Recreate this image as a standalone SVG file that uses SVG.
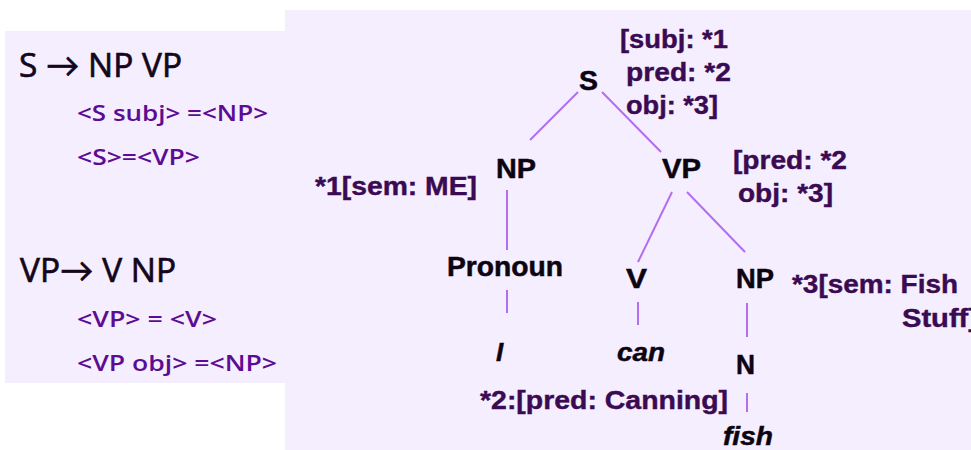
<svg xmlns="http://www.w3.org/2000/svg" width="971" height="450" viewBox="0 0 971 450">
<style>
.bg{fill:#f5eefe}
.head{font-family:"Open Sans",Lato,sans-serif;font-size:33px;fill:#14061c;stroke:#14061c;stroke-width:0.7}
.rule{font-family:"Open Sans",Lato,sans-serif;font-weight:600;font-size:21px;fill:#5c0c92}
.lab{font-family:"Liberation Sans",Arial,sans-serif;font-weight:bold;font-size:27px;fill:#0c0410;stroke:#0c0410;stroke-width:0.5}
.word{font-family:"Liberation Sans",Arial,sans-serif;font-weight:bold;font-style:italic;font-size:26px;fill:#0c0410;stroke:#0c0410;stroke-width:0.5}
.ann{font-family:"Liberation Sans",Arial,sans-serif;font-weight:bold;font-size:25px;fill:#3a0a52;stroke:#3a0a52;stroke-width:0.4}
.edge{stroke:#b36ef0;stroke-width:2;fill:none}
</style>
<rect width="971" height="450" fill="#ffffff"/>
<rect class="bg" x="5" y="31" width="280" height="352"/>
<rect class="bg" x="285" y="10" width="686" height="440"/>
<g id="rules">
<text class="head" x="19" y="77" textLength="163" lengthAdjust="spacingAndGlyphs">S → NP VP</text>
<text class="rule" x="77" y="121" textLength="191" lengthAdjust="spacingAndGlyphs">&lt;S subj&gt; =&lt;NP&gt;</text>
<text class="rule" x="77" y="165" textLength="123" lengthAdjust="spacingAndGlyphs">&lt;S&gt;=&lt;VP&gt;</text>
<text class="head" x="20" y="282" textLength="156" lengthAdjust="spacingAndGlyphs">VP→ V NP</text>
<text class="rule" x="77" y="327" textLength="140" lengthAdjust="spacingAndGlyphs">&lt;VP&gt; = &lt;V&gt;</text>
<text class="rule" x="77" y="371" textLength="200" lengthAdjust="spacingAndGlyphs">&lt;VP obj&gt; =&lt;NP&gt;</text>
</g>
<g id="connectors">
<line class="edge" x1="578" y1="92" x2="530" y2="140"/>
<line class="edge" x1="602" y1="92" x2="661" y2="152"/>
<line class="edge" x1="507" y1="190" x2="507" y2="250"/>
<line class="edge" x1="507" y1="290" x2="507" y2="313"/>
<line class="edge" x1="672" y1="192" x2="638" y2="262"/>
<line class="edge" x1="687" y1="192" x2="745" y2="252"/>
<line class="edge" x1="638" y1="302" x2="638" y2="325"/>
<line class="edge" x1="747" y1="303" x2="747" y2="337"/>
<line class="edge" x1="747" y1="393" x2="747" y2="412"/>
</g>
<g id="node-S">
<text class="lab" x="579" y="90" textLength="19" lengthAdjust="spacingAndGlyphs">S</text>
<text class="ann" x="620" y="48" textLength="108" lengthAdjust="spacingAndGlyphs">[subj: *1</text>
<text class="ann" x="626" y="81" textLength="105" lengthAdjust="spacingAndGlyphs">pred: *2</text>
<text class="ann" x="626" y="114" textLength="92" lengthAdjust="spacingAndGlyphs">obj: *3]</text>
</g>
<g id="node-NP1">
<text class="lab" x="496" y="178" textLength="40" lengthAdjust="spacingAndGlyphs">NP</text>
<text class="ann" x="315" y="195" textLength="162" lengthAdjust="spacingAndGlyphs">*1[sem: ME]</text>
</g>
<g id="node-VP">
<text class="lab" x="662" y="178" textLength="39" lengthAdjust="spacingAndGlyphs">VP</text>
<text class="ann" x="733" y="169" textLength="114" lengthAdjust="spacingAndGlyphs">[pred: *2</text>
<text class="ann" x="738" y="202" textLength="95" lengthAdjust="spacingAndGlyphs">obj: *3]</text>
</g>
<g id="node-Pronoun">
<text class="lab" x="447" y="276" textLength="116" lengthAdjust="spacingAndGlyphs">Pronoun</text>
</g>
<g id="node-V">
<text class="lab" x="626" y="288" textLength="21" lengthAdjust="spacingAndGlyphs">V</text>
</g>
<g id="node-NP2">
<text class="lab" x="736" y="288" textLength="38" lengthAdjust="spacingAndGlyphs">NP</text>
<text class="ann" x="792" y="293" textLength="166" lengthAdjust="spacingAndGlyphs">*3[sem: Fish</text>
<text class="ann" x="902" y="327" textLength="76" lengthAdjust="spacingAndGlyphs">Stuff]</text>
</g>
<g id="node-I">
<text class="word" x="496" y="361">I</text>
</g>
<g id="node-can">
<text class="word" x="617" y="361" textLength="48" lengthAdjust="spacingAndGlyphs">can</text>
<text class="ann" x="480" y="409" textLength="248" lengthAdjust="spacingAndGlyphs">*2:[pred: Canning]</text>
</g>
<g id="node-N">
<text class="lab" x="736" y="374" textLength="19" lengthAdjust="spacingAndGlyphs">N</text>
</g>
<g id="node-fish">
<text class="word" x="723" y="445" textLength="50" lengthAdjust="spacingAndGlyphs">fish</text>
</g>
</svg>
